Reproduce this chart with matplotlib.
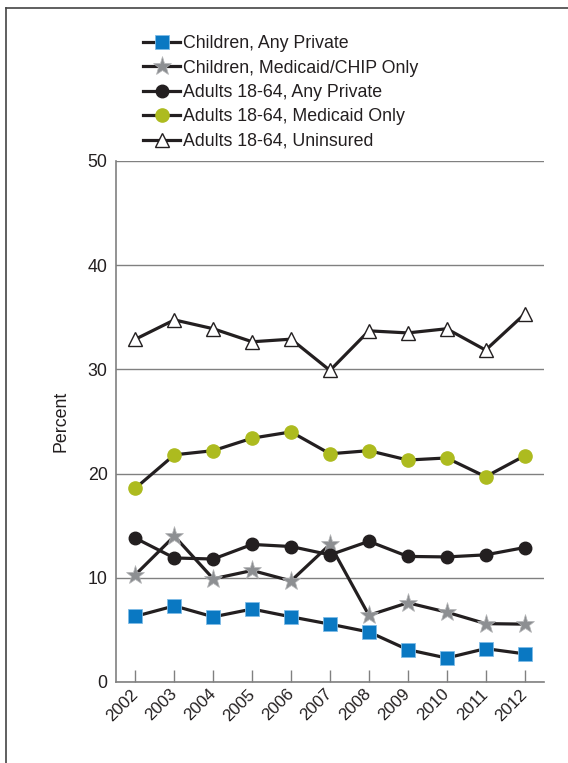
import matplotlib
matplotlib.use('Agg')
import matplotlib.pyplot as plt
import matplotlib.transforms as mtransforms
from matplotlib.lines import Line2D

plt.rcParams['font.family'] = ['Liberation Sans', 'DejaVu Sans']

years = [2002, 2003, 2004, 2005, 2006, 2007, 2008, 2009, 2010, 2011, 2012]

# percent values
child_private = [6.3, 7.3, 6.25, 7.0, 6.25, 5.55, 4.8, 3.1, 2.3, 3.2, 2.7]
child_medicaid = [10.3, 14.0, 9.9, 10.7, 9.7, 13.2, 6.4, 7.6, 6.7, 5.6, 5.55]
adult_private = [13.8, 11.9, 11.8, 13.2, 13.0, 12.2, 13.5, 12.05, 12.0, 12.2, 12.9]
adult_medicaid = [18.6, 21.8, 22.2, 23.4, 24.0, 21.9, 22.2, 21.3, 21.5, 19.7, 21.7]
adult_uninsured = [32.9, 34.75, 33.9, 32.65, 32.9, 29.9, 33.7, 33.5, 33.9, 31.85, 35.3]

labels = ['Children, Any Private', 'Children, Medicaid/CHIP Only',
          'Adults 18-64, Any Private', 'Adults 18-64, Medicaid Only',
          'Adults 18-64, Uninsured']

LINE = '#231f20'
GRID = '#808080'
FS = 12.8

fig = plt.figure(figsize=(5.68, 7.63), dpi=100)
ax = fig.add_axes([0.2042, 0.1062, 0.7535, 0.6828])

ax.plot(years, child_private, color=LINE, lw=2.3, marker='s', ms=9.5,
        mfc='#0a78c2', mec='#7fbce6', mew=0.6, label=labels[0], zorder=3)
ax.plot(years, child_medicaid, color=LINE, lw=2.3, marker='*', ms=14,
        mfc='#8d8f92', mec='#b5b6b8', mew=0.5, label=labels[1], zorder=3)
ax.plot(years, adult_private, color=LINE, lw=2.3, marker='o', ms=9,
        mfc=LINE, mec=LINE, label=labels[2], zorder=3)
ax.plot(years, adult_medicaid, color=LINE, lw=2.3, marker='o', ms=9.5,
        mfc='#adbb1f', mec='#adbb1f', label=labels[3], zorder=3)
ax.plot(years, adult_uninsured, color=LINE, lw=2.3, marker='^', ms=10,
        mfc='white', mec=LINE, mew=1.0, label=labels[4], zorder=3)

ax.set_xlim(2001.5, 2012.5)
ax.set_ylim(0, 50)
ax.set_xticks(years)
ax.set_xticklabels([str(y) for y in years], rotation=45, ha='right', va='center',
                   rotation_mode='anchor', fontsize=12.2, color=LINE)
shift = mtransforms.ScaledTranslation(0.12, 0, fig.dpi_scale_trans)
for lab in ax.get_xticklabels():
    lab.set_transform(lab.get_transform() + shift)
ax.set_yticks([0, 10, 20, 30, 40, 50])
ax.set_yticklabels(['0', '10', '20', '30', '40', '50'], fontsize=FS, color=LINE)
ax.tick_params(axis='x', direction='in', length=9, width=1, color=GRID, pad=7)
ax.tick_params(axis='y', length=0, pad=6)
ax.yaxis.grid(True, color=GRID, lw=1)
ax.set_axisbelow(True)
for s in ['top', 'right']:
    ax.spines[s].set_visible(False)
for s in ['left', 'bottom']:
    ax.spines[s].set_color(GRID)
    ax.spines[s].set_linewidth(1.2)
ax.set_ylabel('Percent', fontsize=FS, color=LINE, labelpad=13)

leg = ax.legend(loc='upper left', bbox_to_anchor=(0.2518, 0.954),
                bbox_transform=fig.transFigure, frameon=False, fontsize=FS,
                handlelength=2.1, handletextpad=0.17, labelspacing=0.42,
                borderpad=0, borderaxespad=0)
for t in leg.get_texts():
    t.set_color(LINE)

# frame lines at left and top of the figure
fig.add_artist(Line2D([0.0114, 0.0114], [0.0, 0.9889], transform=fig.transFigure,
                      color='#444444', lw=1.2))
fig.add_artist(Line2D([0.0114, 1.0], [0.9889, 0.9889], transform=fig.transFigure,
                      color='#444444', lw=1.2))

fig.savefig('out.png', dpi=100)
